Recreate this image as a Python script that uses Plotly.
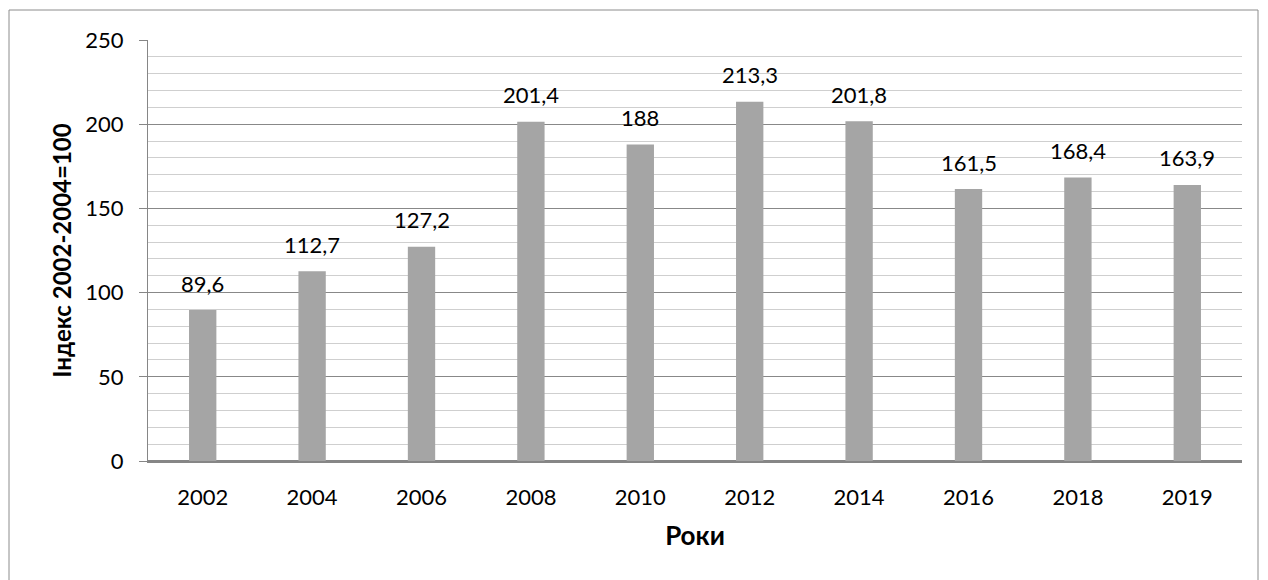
import plotly.graph_objects as go

years = ["2002", "2004", "2006", "2008", "2010", "2012", "2014", "2016", "2018", "2019"]
values = [89.6, 112.7, 127.2, 201.4, 188, 213.3, 201.8, 161.5, 168.4, 163.9]
labels = [f"{v:g}".replace(".", ",") for v in values]

FONT = "Lato, Calibri, Carlito, sans-serif"

fig = go.Figure(go.Bar(
    x=years, y=values,
    marker=dict(color="#A5A5A5", line=dict(width=0)),
    hoverinfo="x+y",
))

# data labels: category axis positions are given by category index
for i, (v, lab) in enumerate(zip(values, labels)):
    fig.add_annotation(
        x=i, y=v, text=lab, showarrow=False,
        xref="x", yref="y", yanchor="middle", yshift=27,
        font=dict(size=22, color="#000000", family=FONT),
    )

# page body has an 8px margin in the browser
W, H = 1260, 572
L, R, T, B = 140, 26, 32, 119
pw, ph = W - L - R, H - T - B

fig.update_layout(
    width=W, height=H,
    margin=dict(l=L, r=R, t=T, b=B, pad=0),
    paper_bgcolor="white", plot_bgcolor="white",
    bargap=0.75,
    showlegend=False,
    font=dict(family=FONT, size=22, color="#000000"),
    xaxis=dict(
        type="category", range=[-0.5, len(years) - 0.5],
        showgrid=False, showline=True, linecolor="#868686", linewidth=1.5,
        ticks="", tickfont=dict(size=22), ticklabelstandoff=16,
        title=dict(text="<b>Роки</b>", font=dict(size=26), standoff=18),
    ),
    yaxis=dict(
        range=[0, 250], dtick=50, tick0=0,
        showgrid=True, gridcolor="#888888", gridwidth=1,
        showline=True, linecolor="#868686", linewidth=1,
        ticks="outside", ticklen=8, tickcolor="#868686",
        tickfont=dict(size=22), ticklabelstandoff=11,
        zeroline=True, zerolinecolor="#868686", zerolinewidth=1.5,
        minor=dict(dtick=10, showgrid=True, gridcolor="#CFCFCF", gridwidth=1),
        title=dict(text="<b>Індекс 2002-2004=100</b>", font=dict(size=24), standoff=6),
    ),
    shapes=[dict(
        type="rect", xref="paper", yref="paper",
        x0=(1 - L) / pw, x1=(1250 - L) / pw,
        y0=(T + ph - 600) / ph, y1=(T + ph - 2) / ph,
        line=dict(color="#8C8C8C", width=1), fillcolor="rgba(0,0,0,0)", layer="below",
    )],
)

fig.write_html("out.html")
